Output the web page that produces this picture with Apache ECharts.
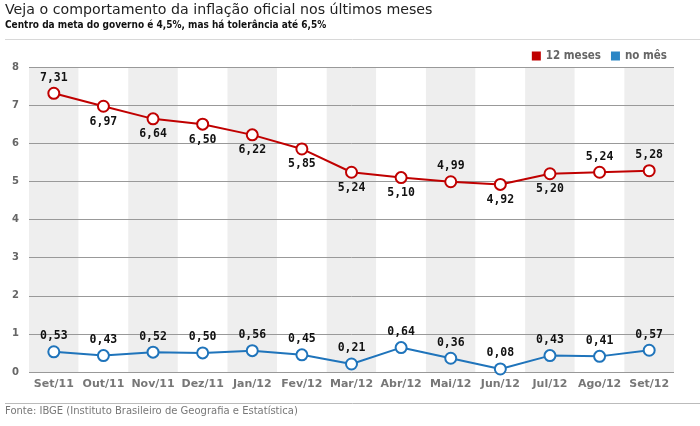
<!DOCTYPE html>
<html><head><meta charset="utf-8">
<script src="https://cdn.jsdelivr.net/npm/echarts@6/dist/echarts.min.js"></script>
<style>html,body{margin:0;padding:0;background:#fff}#c{width:700px;height:426px}</style>
</head><body><div id="c"></div>
<script>
const categories = ['Set/11','Out/11','Nov/11','Dez/11','Jan/12','Fev/12','Mar/12','Abr/12','Mai/12','Jun/12','Jul/12','Ago/12','Set/12'];
const meses12 = [7.31,6.97,6.64,6.50,6.22,5.85,5.24,5.10,4.99,4.92,5.20,5.24,5.28];
const noMes = [0.53,0.43,0.52,0.50,0.56,0.45,0.21,0.64,0.36,0.08,0.43,0.41,0.57];
const labelAbove12 = [true,false,false,false,false,false,false,false,true,false,false,true,true];
const yTicks = [0,1,2,3,4,5,6,7,8];

const fmt = v => v.toFixed(2).replace('.', ',');
const lblStyle = {fontFamily:'DejaVu Sans Mono', fontWeight:'bold', fontSize:11.5, color:'#111'};

const chart = echarts.init(document.getElementById('c'));
chart.setOption({
  animation:false,
  backgroundColor:'#fff',
  graphic:[
    {type:'text', left:5, top:3, style:{text:'Veja o comportamento da inflação oficial nos últimos meses', font:'14.2px "DejaVu Sans"', fill:'#222'}},
    {type:'text', left:5, top:20, style:{text:'Centro da meta do governo é 4,5%, mas há tolerância até 6,5%', font:'bold 10px "DejaVu Sans Condensed"', fill:'#111'}},
    {type:'line', shape:{x1:5,y1:39.5,x2:700,y2:39.5}, style:{stroke:'#d8d8d8', lineWidth:1}},
    {type:'line', shape:{x1:5,y1:403.5,x2:700,y2:403.5}, style:{stroke:'#bbb', lineWidth:1}},
    {type:'text', left:5, top:406, style:{text:'Fonte: IBGE (Instituto Brasileiro de Geografia e Estatística)', font:'10px "DejaVu Sans"', fill:'#777'}}
  ],
  legend:{
    right:28, top:45, itemWidth:9, itemHeight:9, itemGap:10,
    icon:'rect',
    textStyle:{fontFamily:'DejaVu Sans Condensed', fontWeight:'bold', fontSize:11.5, color:'#666'},
    data:[{name:'12 meses', itemStyle:{color:'#c00000', borderWidth:0}},{name:'no mês', itemStyle:{color:'#2b86c5', borderWidth:0}}]
  },
  grid:{left:29, right:26, top:67, bottom:54},
  xAxis:{
    type:'category', data:categories, boundaryGap:true, z:0,
    axisLine:{show:false}, axisTick:{show:false},
    axisLabel:{interval:0, fontFamily:'DejaVu Sans', fontWeight:'bold', fontSize:11, color:'#777', margin:7},
    splitArea:{show:true, interval:0, areaStyle:{color:['#eeeeee','#ffffff']}}
  },
  yAxis:{
    type:'value', min:0, max:8, interval:1, z:2,
    axisLine:{show:false}, axisTick:{show:false},
    axisLabel:{fontFamily:'DejaVu Sans', fontWeight:'bold', fontSize:10, color:'#666', margin:10,
      formatter: v => yTicks.includes(v) ? String(v) : ''},
    splitLine:{show:true, lineStyle:{color:'#999', width:1}}
  },
  series:[
    {name:'12 meses', type:'line', z:5, data:meses12.map((v,i)=>({value:v, label:{position: labelAbove12[i] ? 'top' : 'bottom'}})),
      symbol:'circle', symbolSize:11, lineStyle:{color:'#c00000', width:2},
      itemStyle:{color:'#fff', borderColor:'#c00000', borderWidth:2},
      label:{show:true, distance:3, formatter:p=>fmt(p.value), ...lblStyle}},
    {name:'no mês', type:'line', z:5, data:noMes,
      symbol:'circle', symbolSize:11, lineStyle:{color:'#1f74bb', width:2},
      itemStyle:{color:'#fff', borderColor:'#1f74bb', borderWidth:2},
      label:{show:true, position:'top', distance:3, formatter:p=>fmt(p.value), ...lblStyle}}
  ]
});
</script></body></html>
